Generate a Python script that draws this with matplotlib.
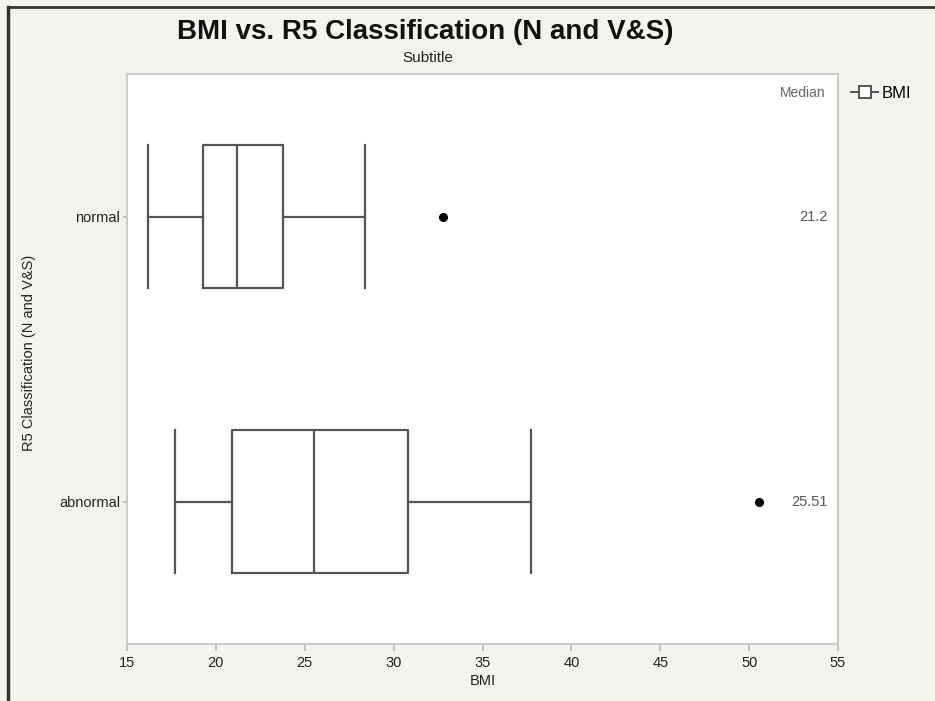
import matplotlib
matplotlib.use("Agg")
import matplotlib.pyplot as plt
from matplotlib.lines import Line2D

# Box plot summary
categories = ["abnormal", "normal"]
whislo = [17.7, 16.2]
q1 = [20.9, 19.3]
medians = [25.51, 21.2]
q3 = [30.8, 23.75]
whishi = [37.7, 28.4]
outliers = [[50.55], [32.8]]
median_labels = ["25.51", "21.2"]

plt.rcParams["font.family"] = ["Liberation Sans", "DejaVu Sans"]

bg = "#f4f4ef"
line_col = "#555555"

fig = plt.figure(figsize=(9.35, 7.01), dpi=100, facecolor=bg)
ax = fig.add_axes([0.1358, 0.0813, 0.7605, 0.8131])
ax.set_facecolor("white")

stats = []
for i, cat in enumerate(categories):
    stats.append(dict(label=cat, whislo=whislo[i], q1=q1[i], med=medians[i],
                      q3=q3[i], whishi=whishi[i], fliers=outliers[i]))

pos = list(range(len(categories)))
ax.bxp(stats, positions=pos, vert=False, widths=0.5, capwidths=0.5,
       showfliers=True, patch_artist=False,
       boxprops=dict(color=line_col, linewidth=1.6),
       whiskerprops=dict(color=line_col, linewidth=1.6),
       capprops=dict(color=line_col, linewidth=1.6),
       medianprops=dict(color=line_col, linewidth=1.6),
       flierprops=dict(marker="o", markerfacecolor="black", markeredgecolor="black",
                       markersize=5.5))

ax.set_xlim(15, 55)
ax.set_ylim(-0.5, 1.5)
ax.set_xticks(range(15, 56, 5))
ax.set_yticks(pos)
ax.set_yticklabels(categories)

for s in ax.spines.values():
    s.set_color("#cccccc")
    s.set_linewidth(1.5)
ax.tick_params(axis="both", colors="#b8b8b8", labelcolor="#222222",
               length=5, width=1.2, labelsize=10.5)
ax.tick_params(axis="y", length=3, pad=2)

ax.set_xlabel("BMI", fontsize=10.5, color="#222222", labelpad=3)
ax.set_ylabel("R5 Classification (N and V&S)", fontsize=10.5, color="#222222",
              labelpad=9)
ax.yaxis.set_label_coords(-0.128, 0.51)

# Median column
ax.text(0.983, 0.9667, "Median", transform=ax.transAxes, ha="right", va="center",
        fontsize=10, color="#666666")
for p, lab in zip(pos, median_labels):
    ax.text(0.986, p, lab, transform=ax.get_yaxis_transform(), ha="right",
            va="center", fontsize=10.5, color="#555555")

# Legend outside
handle = Line2D([], [], color=line_col, linewidth=1.4, marker="s", markersize=9,
                markerfacecolor="white", markeredgecolor=line_col, markeredgewidth=1.4)
ax.legend([handle], ["BMI"], loc="center left", bbox_to_anchor=(1.0, 0.966),
          frameon=False, handlelength=1.6, handletextpad=0.2, fontsize=12,
          borderaxespad=0.4)

# Titles
fig.text(0.4545, 0.955, "BMI vs. R5 Classification (N and V&S)", ha="center",
         va="center", fontsize=20, fontweight="bold", color="#111111")
fig.text(0.4575, 0.917, "Subtitle", ha="center", va="center", fontsize=11,
         color="#222222")

# Frame lines at top and left
fig.add_artist(Line2D([8 / 935, 1.0], [1 - 7 / 701, 1 - 7 / 701],
                      transform=fig.transFigure, color="#333333", linewidth=2))
fig.add_artist(Line2D([8 / 935, 8 / 935], [0, 1 - 7 / 701],
                      transform=fig.transFigure, color="#333333", linewidth=2.5))

fig.savefig("out.png", dpi=100, facecolor=bg)
